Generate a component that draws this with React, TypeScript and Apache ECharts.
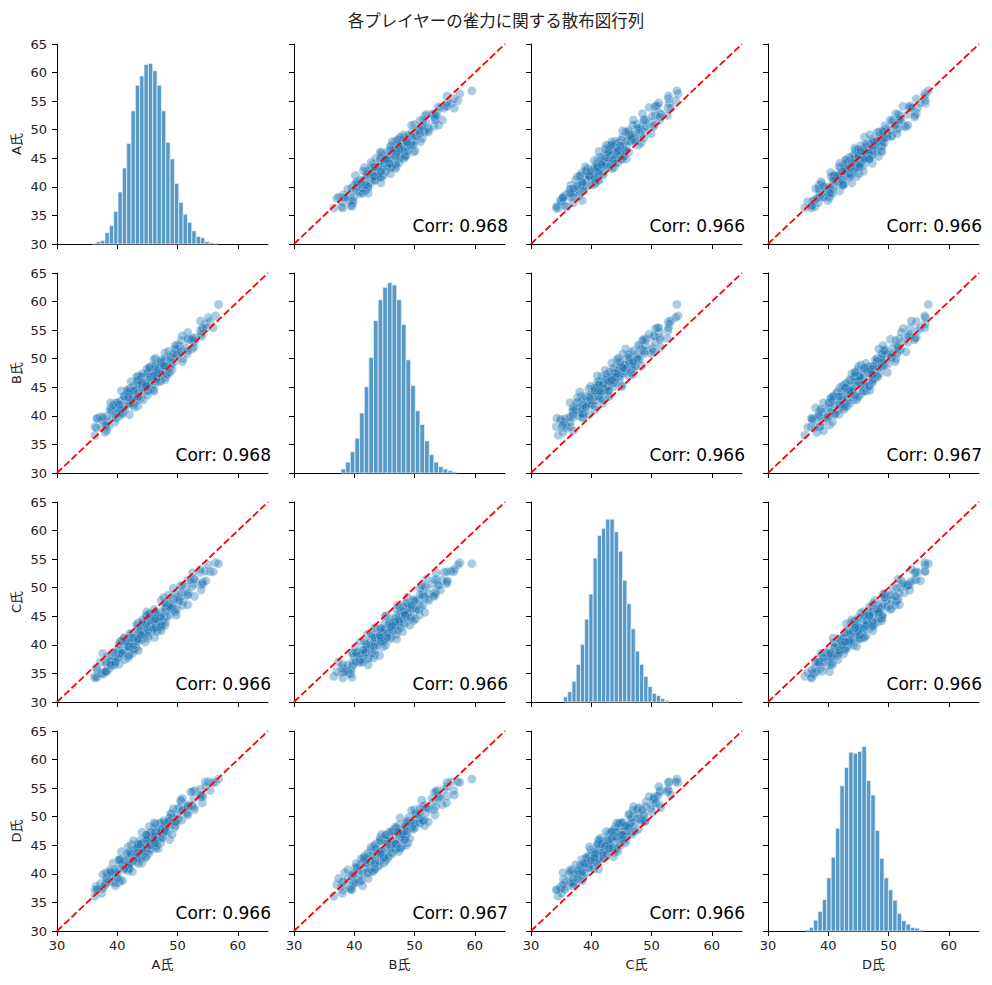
import * as echarts from 'echarts';
import { useEffect, useRef } from 'react';

// players and their sampled scores (one entry per sample, same order for every player)
const players = ['A氏', 'B氏', 'C氏', 'D氏'];

const scoresA = [
    36.3, 36.3, 37.4, 36.5, 37.7, 38.6, 37.5, 38.2, 37.2, 39.1, 38.3, 39.2, 38.4, 40.3, 39.2, 39.8,
    38.8, 40.5, 39.7, 40.1, 38.9, 41.2, 40.0, 40.9, 41.8, 40.3, 41.5, 41.2, 42.0, 40.6, 42.0, 41.4,
    43.2, 41.8, 42.6, 41.2, 42.4, 43.2, 41.9, 42.8, 42.4, 43.9, 42.1, 43.4, 43.0, 43.9, 42.1, 43.4,
    44.0, 43.1, 44.6, 43.5, 44.1, 43.3, 45.5, 44.0, 44.6, 43.5, 45.1, 44.2, 44.8, 45.8, 44.3, 45.4,
    44.0, 45.9, 45.1, 45.6, 45.0, 46.5, 45.4, 46.3, 45.1, 47.2, 46.1, 45.6, 46.6, 45.4, 47.1, 46.5,
    47.5, 46.4, 47.0, 46.3, 48.2, 47.0, 47.8, 46.3, 48.3, 47.5, 48.1, 47.2, 49.5, 48.3, 48.0, 49.1,
    47.9, 49.2, 48.9, 50.2, 48.9, 49.9, 48.9, 50.7, 50.0, 51.6, 50.3, 51.4, 50.6, 52.4, 51.8, 52.7,
    51.7, 54.0, 52.9, 54.2, 53.8, 55.4, 54.6, 56.3, 56.8,
    38.0, 36.6, 38.2, 36.7, 39.7, 38.1, 39.7, 37.6, 39.6, 40.9, 38.9, 40.7, 40.1, 42.0, 39.3, 41.8,
    40.5, 42.5, 40.3, 41.9, 43.4, 41.1, 42.8, 40.7, 43.5, 42.3, 44.1, 41.8, 43.5, 41.6, 44.3, 42.7,
    45.0, 42.3, 44.6, 43.5, 45.2, 42.7, 44.8, 43.5, 46.1, 43.4, 45.1, 43.2, 46.2, 44.2, 46.0, 43.9,
    46.8, 44.9, 46.6, 44.1, 46.4, 44.8, 47.3, 45.4, 47.1, 44.9, 48.0, 46.3, 47.9, 45.3, 47.4, 46.1,
    48.7, 46.1, 48.3, 47.2, 49.1, 46.3, 48.7, 47.3, 49.8, 47.9, 49.9, 47.7, 49.6, 50.9, 48.5, 50.8,
    49.6, 51.7, 49.3, 51.7, 50.5, 52.8, 50.8, 52.7, 53.9, 52.2, 54.1, 52.5, 54.7, 53.8, 55.9, 55.1,
];
const scoresB = [
    36.6, 38.1, 38.0, 37.9, 39.4, 38.2, 39.2, 38.1, 39.8, 39.7, 38.9, 40.9, 40.0, 39.9, 41.0, 39.6,
    41.0, 40.7, 42.2, 40.5, 41.4, 41.0, 42.3, 40.5, 42.1, 41.7, 42.7, 41.5, 43.4, 42.6, 42.2, 43.3,
    42.6, 43.9, 42.0, 43.4, 43.9, 42.8, 44.7, 43.4, 44.1, 43.1, 43.9, 44.8, 42.8, 44.5, 44.8, 44.0,
    45.6, 44.5, 45.3, 43.9, 45.1, 45.9, 44.6, 45.6, 44.3, 46.1, 45.3, 46.8, 45.0, 45.9, 45.5, 46.8,
    46.0, 46.7, 45.1, 46.7, 47.5, 46.0, 46.9, 46.5, 47.5, 46.2, 47.5, 48.5, 46.8, 47.4, 48.2, 46.5,
    47.9, 48.7, 47.5, 48.5, 47.4, 48.3, 49.5, 48.2, 49.0, 47.8, 49.7, 48.8, 49.5, 48.5, 50.1, 49.1,
    51.0, 49.9, 49.2, 50.8, 50.2, 51.6, 50.3, 51.4, 52.4, 50.9, 52.2, 51.9, 53.2, 51.7, 53.5, 52.9,
    54.6, 53.9, 53.7, 55.4, 54.9, 56.5, 56.1, 57.5, 59.5,
    37.1, 39.6, 37.4, 39.5, 40.2, 38.4, 41.4, 39.8, 38.9, 41.2, 42.3, 40.3, 42.3, 40.2, 41.9, 43.2,
    41.1, 43.0, 42.0, 44.2, 41.7, 43.4, 41.5, 44.4, 43.4, 42.2, 44.9, 43.3, 45.5, 44.4, 42.8, 45.2,
    43.6, 46.0, 44.9, 43.4, 46.3, 44.4, 45.7, 47.0, 44.3, 46.2, 44.3, 46.8, 45.5, 47.4, 44.5, 46.9,
    47.5, 45.1, 48.0, 45.8, 47.7, 45.3, 47.3, 48.6, 46.0, 48.2, 46.8, 48.9, 46.3, 48.4, 49.2, 47.0,
    48.4, 49.8, 47.2, 49.4, 48.1, 50.1, 47.6, 49.8, 50.8, 48.7, 50.7, 48.8, 51.7, 50.0, 51.3, 49.5,
    52.3, 51.4, 50.9, 53.4, 51.2, 53.2, 54.0, 52.0, 54.3, 53.3, 55.3, 53.6, 55.4, 56.6, 55.4, 57.2,
];
const scoresC = [
    34.5, 34.2, 35.1, 36.0, 34.9, 35.8, 35.0, 36.5, 37.0, 36.3, 35.4, 37.1, 37.9, 36.6, 37.3, 38.6,
    36.9, 38.0, 37.5, 38.7, 38.1, 37.4, 39.0, 38.4, 39.6, 38.4, 40.4, 39.1, 38.3, 39.9, 39.7, 40.5,
    39.4, 40.2, 39.3, 41.2, 40.0, 40.8, 39.6, 41.2, 40.6, 41.7, 40.3, 41.3, 39.9, 41.3, 42.0, 41.0,
    42.0, 40.9, 42.9, 41.6, 42.5, 41.0, 42.3, 43.0, 41.8, 42.7, 41.2, 43.5, 42.6, 43.3, 42.1, 44.1,
    43.1, 42.6, 43.7, 43.1, 44.8, 42.7, 44.3, 43.6, 44.1, 42.9, 44.8, 43.8, 44.6, 45.4, 43.8, 44.7,
    44.2, 45.6, 43.7, 45.4, 45.0, 45.8, 44.6, 45.7, 46.8, 45.5, 46.4, 45.0, 46.2, 47.2, 45.9, 46.9,
    46.6, 48.0, 46.4, 47.7, 46.4, 48.3, 47.8, 49.0, 47.8, 48.8, 48.0, 50.1, 49.1, 50.2, 49.1, 50.6,
    51.3, 50.5, 51.4, 51.0, 52.7, 52.8, 52.9, 54.4, 54.2,
    35.3, 34.3, 37.0, 35.6, 37.0, 35.3, 37.0, 38.5, 36.5, 38.5, 36.5, 38.6, 37.7, 39.6, 38.7, 37.7,
    40.6, 38.5, 40.1, 38.1, 40.6, 41.2, 39.1, 40.7, 39.0, 41.9, 40.9, 39.7, 42.0, 40.6, 41.9, 39.9,
    42.9, 41.3, 40.5, 43.0, 42.5, 41.2, 43.7, 41.0, 42.8, 43.8, 41.6, 43.5, 41.3, 44.4, 42.9, 41.7,
    44.2, 45.0, 42.3, 44.0, 43.0, 45.1, 42.5, 44.8, 43.1, 45.8, 44.0, 45.6, 43.4, 45.4, 43.4, 46.2,
    45.2, 44.2, 46.9, 44.8, 46.7, 44.5, 46.6, 47.8, 45.2, 47.3, 46.2, 48.3, 45.7, 47.6, 48.7, 46.9,
    48.9, 47.0, 49.9, 48.7, 50.3, 48.5, 50.4, 51.5, 49.6, 51.4, 50.7, 52.6, 51.2, 53.2, 52.8, 54.0,
];
const scoresD = [
    36.1, 37.2, 36.6, 37.8, 37.7, 38.6, 37.4, 38.6, 38.3, 39.8, 39.0, 38.6, 40.0, 38.5, 39.9, 39.6,
    40.7, 38.9, 40.2, 40.9, 40.1, 41.6, 40.1, 41.2, 41.0, 42.5, 40.9, 42.0, 40.9, 42.4, 41.7, 42.2,
    43.1, 41.3, 42.7, 42.3, 43.3, 42.1, 43.0, 44.0, 42.3, 43.1, 43.7, 42.9, 44.2, 42.6, 43.9, 43.6,
    44.4, 43.4, 44.2, 45.4, 43.1, 44.7, 44.1, 45.2, 43.8, 44.8, 45.3, 44.3, 46.0, 44.9, 45.5, 44.3,
    46.0, 45.1, 46.5, 45.0, 46.0, 45.8, 47.2, 45.6, 46.6, 45.4, 46.5, 47.2, 45.4, 47.0, 46.5, 47.7,
    46.4, 47.1, 47.7, 46.5, 48.5, 47.3, 48.1, 47.3, 48.8, 47.0, 48.4, 48.9, 48.1, 48.9, 48.1, 49.9,
    48.9, 49.7, 48.5, 49.7, 50.5, 49.4, 50.5, 49.4, 51.4, 50.6, 51.6, 50.7, 52.6, 52.0, 51.8, 53.2,
    52.1, 53.5, 54.6, 53.6, 54.8, 54.6, 56.1, 56.0, 56.6,
    38.1, 37.2, 39.2, 37.3, 38.4, 40.2, 37.9, 39.9, 40.7, 38.8, 40.4, 41.8, 39.2, 41.1, 41.9, 40.5,
    42.6, 40.4, 42.4, 41.5, 43.1, 40.8, 42.8, 43.9, 41.8, 43.6, 41.9, 44.7, 42.7, 43.5, 44.7, 42.3,
    44.4, 45.1, 42.8, 45.1, 43.5, 45.8, 43.0, 45.2, 45.8, 43.7, 46.3, 44.5, 46.0, 43.9, 46.9, 45.2,
    44.4, 46.8, 44.9, 47.3, 44.5, 46.8, 47.4, 45.0, 47.3, 45.9, 48.2, 45.4, 47.4, 48.3, 46.2, 48.1,
    46.0, 48.9, 47.3, 48.9, 46.9, 48.8, 49.8, 47.8, 49.0, 47.5, 50.3, 49.3, 48.4, 51.2, 49.3, 51.1,
    49.1, 51.8, 51.4, 50.3, 52.9, 51.2, 53.2, 51.6, 53.5, 54.3, 52.4, 54.4, 55.3, 53.8, 56.0, 56.1,
];
const scores = [scoresA, scoresB, scoresC, scoresD];

// histogram bins: first edge, bin width and counts per player
const histStarts = [35.8, 37.8, 35.4, 36.1];
const histWidths = [0.72, 0.77, 0.70, 0.73];
const histCountsA = [1, 4, 6, 20, 32, 57, 91, 133, 176, 233, 278, 294, 314, 316, 303, 278, 233, 178, 149, 106, 73, 52, 38, 23, 13, 11, 4, 2, 1];
const histCountsB = [7, 19, 37, 61, 105, 151, 202, 267, 303, 325, 333, 329, 303, 260, 198, 153, 109, 85, 56, 32, 19, 11, 7, 4, 2];
const histCountsC = [9, 18, 36, 66, 101, 145, 189, 252, 291, 304, 320, 320, 298, 264, 213, 172, 128, 89, 66, 45, 27, 15, 11, 6, 2];
const histCountsD = [2, 6, 19, 34, 55, 93, 129, 180, 254, 286, 313, 311, 314, 323, 263, 238, 176, 127, 93, 72, 54, 31, 18, 12, 6, 5, 2];
const histCounts = [histCountsA, histCountsB, histCountsC, histCountsD];

// correlation labels, row = y player, column = x player
const corrLabels = [
    ['', '0.968', '0.966', '0.966'],
    ['0.968', '', '0.966', '0.967'],
    ['0.966', '0.966', '', '0.966'],
    ['0.966', '0.967', '0.966', ''],
];

const axisRange = [30, 65];
const xTickValues = [30, 40, 50, 60];
const yTickStep = 5;
const refLine = [30, 65];

const TITLE = '各プレイヤーの雀力に関する散布図行列';
const FONT = '"DejaVu Sans", "Noto Sans CJK JP", sans-serif';

const GRID_LEFT = 57;
const GRID_TOP = 44;
const CELL_W = 211;
const CELL_H = 200;
const STEP_X = 237;
const STEP_Y = 229;

function buildOption() {
    const grid: any[] = [];
    const xAxis: any[] = [];
    const yAxis: any[] = [];
    const series: any[] = [];
    const graphic: any[] = [];

    for (let r = 0; r < 4; r++) {
        for (let c = 0; c < 4; c++) {
            const k = r * 4 + c;
            const left = GRID_LEFT + c * STEP_X;
            const top = GRID_TOP + r * STEP_Y;
            grid.push({ left, top, width: CELL_W, height: CELL_H });

            xAxis.push({
                type: 'value',
                gridIndex: k,
                min: axisRange[0],
                max: axisRange[1],
                splitLine: { show: false },
                axisLine: { show: true, lineStyle: { color: '#000', width: 1 } },
                axisTick: { show: true, length: 5, customValues: xTickValues, lineStyle: { color: '#000' } },
                axisLabel: {
                    show: r === 3,
                    customValues: xTickValues,
                    fontSize: 13,
                    color: '#222',
                    margin: 8,
                    fontFamily: FONT,
                },
                name: r === 3 ? players[c] : '',
                nameLocation: 'middle',
                nameGap: 27,
                nameTextStyle: { fontSize: 13, color: '#222', fontFamily: FONT },
            });

            yAxis.push({
                type: 'value',
                gridIndex: k,
                min: axisRange[0],
                max: axisRange[1],
                interval: yTickStep,
                splitLine: { show: false },
                axisLine: { show: true, lineStyle: { color: '#000', width: 1 } },
                axisTick: { show: true, length: 5, lineStyle: { color: '#000' } },
                axisLabel: {
                    show: c === 0,
                    fontSize: 13,
                    color: '#222',
                    margin: 10,
                    fontFamily: FONT,
                },
                name: c === 0 ? players[r] : '',
                nameLocation: 'middle',
                nameGap: 34,
                nameRotate: 90,
                nameTextStyle: { fontSize: 13, color: '#222', fontFamily: FONT },
            });

            if (r === c) continue;

            const xs = scores[c];
            const ys = scores[r];
            series.push({
                type: 'scatter',
                xAxisIndex: k,
                yAxisIndex: k,
                symbolSize: 9,
                itemStyle: {
                    color: '#1f77b4',
                    opacity: 0.38,
                    borderColor: '#ffffff',
                    borderWidth: 0.6,
                },
                data: xs.map((x, i) => [x, ys[i]]),
            });
            series.push({
                type: 'line',
                xAxisIndex: k,
                yAxisIndex: k,
                symbol: 'none',
                lineStyle: { color: '#ff0000', width: 1.8, type: [7, 3] },
                data: refLine.map((v) => [v, v]),
                z: 5,
            });

            graphic.push({
                type: 'text',
                x: left + CELL_W + 3,
                y: top + CELL_H - 18,
                style: {
                    text: 'Corr: ' + corrLabels[r][c],
                    fontSize: 17,
                    fontFamily: FONT,
                    fill: '#000',
                    textAlign: 'right',
                    textVerticalAlign: 'middle',
                },
                z: 10,
            });
        }
    }

    // histograms on the diagonal use an extra hidden count axis
    for (let d = 0; d < 4; d++) {
        const k = d * 4 + d;
        const countAxis = yAxis.length;
        yAxis.push({
            type: 'value',
            gridIndex: k,
            min: 0,
            max: 350,
            show: false,
        });
        const start = histStarts[d];
        const w = histWidths[d];
        series.push({
            type: 'custom',
            xAxisIndex: k,
            yAxisIndex: countAxis,
            data: histCounts[d].map((n, i) => [start + i * w, start + (i + 1) * w, n]),
            renderItem: (_params: any, api: any) => {
                const p0 = api.coord([api.value(0), api.value(2)]);
                const p1 = api.coord([api.value(1), 0]);
                return {
                    type: 'rect',
                    shape: { x: p0[0], y: p0[1], width: p1[0] - p0[0], height: p1[1] - p0[1] },
                    style: { fill: '#5799c7', stroke: 'rgba(235,243,250,0.95)', lineWidth: 0.8 },
                };
            },
        });
    }

    return {
        animation: false,
        backgroundColor: '#ffffff',
        title: {
            text: TITLE,
            left: 'center',
            top: 7,
            textStyle: { fontSize: 16.5, fontWeight: 'normal', color: '#222', fontFamily: '"Noto Sans CJK JP", sans-serif' },
        },
        grid,
        xAxis,
        yAxis,
        series,
        graphic,
    };
}

export default function App() {
    const chartRef = useRef<HTMLDivElement>(null);

    useEffect(() => {
        const chart = echarts.init(chartRef.current, null, { renderer: 'svg' });
        chart.setOption(buildOption());
        return () => {
            chart.dispose();
        };
    }, []);

    return <div
        ref={chartRef}
        style={{
            position: 'fixed',
            left: 0,
            top: 0,
            width: '992px',
            height: '985px',
        }}
    />
}
